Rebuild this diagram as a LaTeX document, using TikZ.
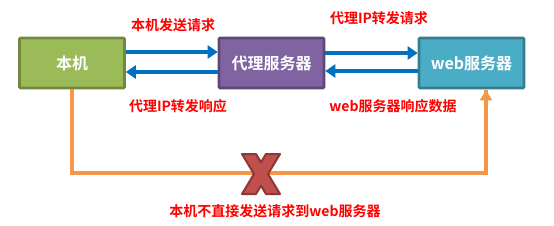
\documentclass[tikz,border=0pt]{standalone}
\usepackage{fontspec}
\setmainfont{Noto Sans CJK SC}
\newfontfamily\cjkb{Noto Sans CJK SC Bold}
\usetikzlibrary{arrows.meta}
\definecolor{gfill}{HTML}{9BBB59}\definecolor{gdraw}{HTML}{71893F}
\definecolor{pfill}{HTML}{8064A2}\definecolor{pdraw}{HTML}{5C4776}
\definecolor{tfill}{HTML}{4BACC6}\definecolor{tdraw}{HTML}{357D91}
\definecolor{arrblue}{HTML}{0070C0}
\definecolor{orng}{HTML}{F79646}
\definecolor{xfill}{HTML}{C0504D}\definecolor{xdraw}{HTML}{8C3836}
\begin{document}
\begin{tikzpicture}[x=1pt,y=-1pt,
  box/.style={draw, line width=2.6pt, minimum width=105pt, minimum height=50pt, inner sep=0pt, text=white, font=\cjkb\fontsize{16}{18}\selectfont, rounded corners=1pt},
  lbl/.style={text=red, font=\cjkb\fontsize{14}{16}\selectfont, inner sep=0pt},
  flow/.style={draw=arrblue, line width=3.2pt, -{Triangle[length=10pt,width=13pt]}},
  orl/.style={draw=orng, line width=3.2pt},
  xmark/.style={fill=xfill, draw=xdraw, line width=2pt, line join=round}]
\useasboundingbox (0,0) rectangle (554,225);
\node[box, fill=gfill, draw=gdraw] (local) at (72,63) {本机};
\node[box, fill=pfill, draw=pdraw] (proxy) at (271.5,63) {代理服务器};
\node[box, fill=tfill, draw=tdraw] (web) at (471.5,63) {web服务器};
\draw[flow] ([yshift=11pt]local.east) -- ([yshift=11pt]proxy.west);
\draw[flow] ([yshift=-9pt]proxy.west) -- ([yshift=-9pt]local.east);
\draw[flow] ([yshift=10pt]proxy.east) -- ([yshift=10pt]web.west);
\draw[flow] ([yshift=-8pt]web.west) -- ([yshift=-8pt]proxy.east);
\node[lbl] (l1) at (173,25) {本机发送请求};
\node[lbl] (l2) at (178,106) {代理IP转发响应};
\node[lbl] (l3) at (379,18) {代理IP转发请求};
\node[lbl] (l4) at (393,106) {web服务器响应数据};
\coordinate (c1) at (72,173);
\coordinate (c2) at (486,173);
\draw[orl] (local.south -| c1) -- (c1) -- (c2) -- ([yshift=-1pt]web.south -| c2);
\draw[orl, -{Triangle[length=10pt,width=12pt]}] (c2) -- ([yshift=-1pt]web.south -| c2);
\coordinate (xc) at (261,174);
\draw[xmark, shift={(xc)}] (-19,-20) -- (-5,-20) -- (0,-11.7) -- (5,-20) -- (19,-20) -- (7,0)
  -- (19,20) -- (5,20) -- (0,11.7) -- (-5,20) -- (-19,20) -- (-7,0) -- cycle;
\node[lbl] (l5) at (275,211) {本机不直接发送请求到web服务器};
\end{tikzpicture}
\end{document}
